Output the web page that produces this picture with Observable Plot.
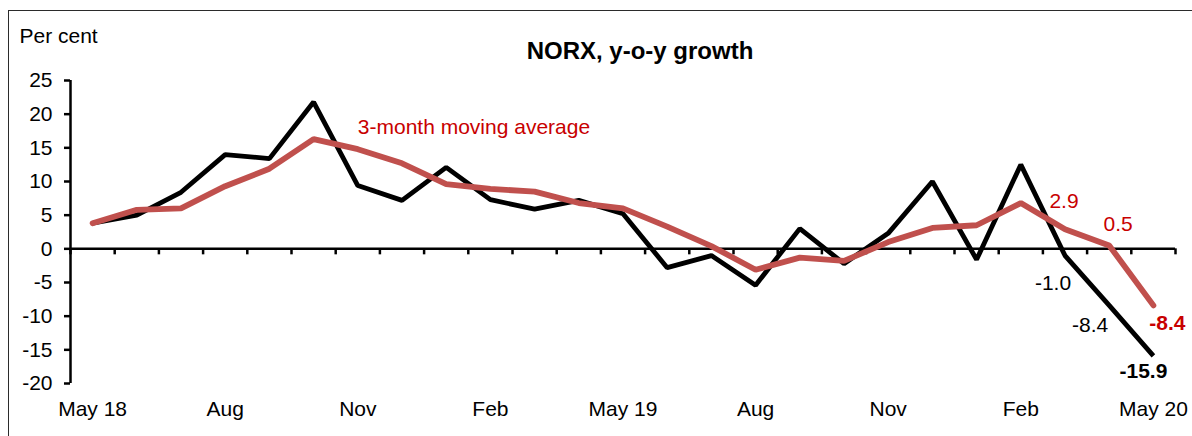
<!DOCTYPE html>
<html>
<head>
<meta charset="utf-8">
<script src="https://cdn.jsdelivr.net/npm/d3@7"></script>
<script src="https://cdn.jsdelivr.net/npm/@observablehq/plot@0.6"></script>
<style>
  html, body { margin: 0; padding: 0; background: #fff; }
  #wrap { position: relative; width: 1192px; height: 436px; overflow: hidden; }
  #frame { position: absolute; left: 8px; top: 10px; right: -10px; bottom: -10px;
           border-top: 1.2px solid #2b2b2b; border-left: 1.2px solid #2b2b2b; pointer-events: none; }
  svg { font-family: "Liberation Sans", Arial, sans-serif; }
</style>
</head>
<body>
<div id="wrap"><div id="frame"></div></div>
<script>
// ---- Data ----
const months = ["May 18","Jun 18","Jul 18","Aug 18","Sep 18","Oct 18","Nov 18","Dec 18",
  "Jan 19","Feb 19","Mar 19","Apr 19","May 19","Jun 19","Jul 19","Aug 19","Sep 19","Oct 19",
  "Nov 19","Dec 19","Jan 20","Feb 20","Mar 20","Apr 20","May 20"];
const yoy = [3.8, 5.0, 8.4, 14.0, 13.4, 21.8, 9.4, 7.2, 12.1, 7.3, 5.9, 7.2, 5.2,
  -2.8, -1.0, -5.4, 3.0, -2.2, 2.3, 10.0, -1.6, 12.5, -1.0, -8.4, -15.9];
const movAvg = [3.8, 5.8, 6.0, 9.3, 11.9, 16.3, 14.8, 12.7, 9.6, 8.9, 8.5, 6.8, 6.0,
  3.3, 0.4, -3.1, -1.3, -1.8, 1.0, 3.1, 3.5, 6.8, 2.9, 0.5, -8.4];
const xTickIdx = [0, 3, 6, 9, 12, 15, 18, 21, 24];
const xTickLabels = ["May 18","Aug","Nov","Feb","May 19","Aug","Nov","Feb","May 20"];
const yTicks = [-20, -15, -10, -5, 0, 5, 10, 15, 20, 25];
const titleText = "NORX, y-o-y growth";
const unitText = "Per cent";
const seriesLabel = "3-month moving average";

// ---- Build tables ----
const rows = months.map((m, i) => ({i, month: m, yoy: yoy[i], avg: movAvg[i]}));
const boundaries = d3.range(months.length + 1).map(k => k - 0.5);
const fmt = v => v.toFixed(1);
const last = months.length - 1;

const font = 21;
const red = "#c0504d";
const redText = "#c80000";

const chart = Plot.plot({
  width: 1192,
  height: 436,
  marginLeft: 70,
  marginRight: 17,
  marginTop: 80,
  marginBottom: 53,
  style: {fontSize: font + "px", fontFamily: "'Liberation Sans', Arial, sans-serif", color: "#000", background: "transparent"},
  x: {type: "linear", domain: [-0.5, months.length - 0.5]},
  y: {domain: [-20, 25]},
  marks: [
    // y axis
    Plot.axisY({ticks: yTicks, tickSize: 6, tickPadding: 12, tickFormat: d => String(d),
      fontSize: font, stroke: "#000", strokeWidth: 2.5, label: null}),
    Plot.ruleX([-0.5], {y1: -20, y2: 25, stroke: "#000", strokeWidth: 2.5}),
    // x axis labels (bottom)
    Plot.axisX({ticks: xTickIdx, tickSize: 0, tickPadding: 18,
      tickFormat: (d, k) => xTickLabels[xTickIdx.indexOf(d)], fontSize: font, label: null}),
    // zero line with category ticks
    Plot.ruleY([0], {x1: -0.5, x2: months.length - 0.5, stroke: "#000", strokeWidth: 2.5}),
    Plot.ruleX(boundaries, {x: d => d, y1: 0, y2: 0, insetBottom: -6, stroke: "#000", strokeWidth: 2.5}),
    // series
    Plot.line(rows, {x: "i", y: "yoy", stroke: "#000", strokeWidth: 4.8, strokeLinejoin: "miter", strokeLinecap: "butt"}),
    Plot.line(rows, {x: "i", y: "avg", stroke: red, strokeWidth: 5.8, strokeLinejoin: "miter", strokeLinecap: "round"}),
    // series label
    Plot.text([rows[6]], {x: "i", y: "avg", text: () => seriesLabel, textAnchor: "start",
      dy: -22, fill: redText, fontSize: font}),
    // black data labels
    Plot.text([rows[last - 2]], {x: "i", y: "yoy", text: d => fmt(d.yoy), dx: -12, dy: 28, fill: "#000", fontSize: font}),
    Plot.text([rows[last - 1]], {x: "i", y: "yoy", text: d => fmt(d.yoy), dx: -19, dy: 20, fill: "#000", fontSize: font}),
    Plot.text([rows[last]], {x: "i", y: "yoy", text: d => fmt(d.yoy), dx: -10, dy: 15, fill: "#000", fontSize: font, fontWeight: "bold"}),
    // red data labels
    Plot.text([rows[last - 2]], {x: "i", y: "avg", text: d => fmt(d.avg), dx: -1, dy: -28, fill: redText, fontSize: font}),
    Plot.text([rows[last - 1]], {x: "i", y: "avg", text: d => fmt(d.avg), dx: 9, dy: -21, fill: redText, fontSize: font}),
    Plot.text([rows[last]], {x: "i", y: "avg", text: d => fmt(d.avg), dx: 14, dy: 18, fill: redText, fontSize: font, fontWeight: "bold"}),
    // title and unit
    Plot.text([titleText], {frameAnchor: "top", lineAnchor: "middle", text: d => d, dx: 17, dy: -29, fontSize: 24, fontWeight: "bold", fill: "#000"}),
    Plot.text([unitText], {frameAnchor: "top-left", lineAnchor: "middle", text: d => d, textAnchor: "start", dx: -51, dy: -44, fontSize: font, fill: "#000"})
  ]
});
document.getElementById("wrap").prepend(chart);
</script>
</body>
</html>
